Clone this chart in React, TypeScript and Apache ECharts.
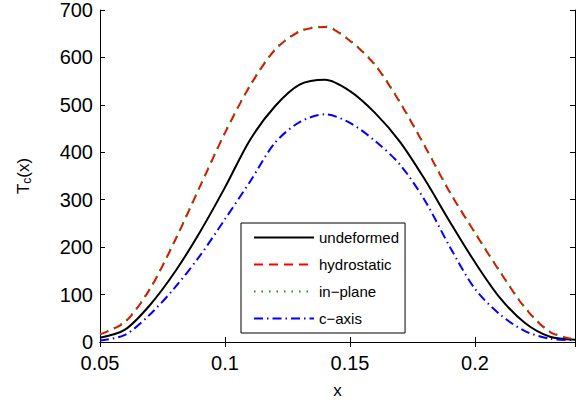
import React, { useEffect, useRef } from "react";
import * as echarts from "echarts";

const xs = [0.05, 0.06, 0.07, 0.08, 0.09, 0.1, 0.11, 0.12, 0.13, 0.14, 0.15, 0.16, 0.17, 0.18, 0.19, 0.2, 0.21, 0.22, 0.23, 0.24];
const undeformed = [9, 26, 78, 148, 232, 326, 426, 497, 543, 553, 529, 483, 422, 342, 253, 168, 93, 40, 11, 5];
const hydrostatic = [16, 42, 112, 214, 328, 441, 540, 616, 655, 664, 635, 584, 505, 412, 315, 230, 148, 72, 21, 5];
const inPlane = [17, 43, 113, 215, 329, 442, 541, 617, 656, 665, 636, 585, 506, 413, 316, 231, 149, 73, 22, 5];
const cAxis = [3, 15, 58, 115, 182, 259, 338, 420, 464, 480, 462, 424, 374, 298, 200, 112, 58, 23, 7, 4];
const xTickLabels = ["0.05", "0.1", "0.15", "0.2"];
const seriesNames = ["undeformed", "hydrostatic", "in\u2212plane", "c\u2212axis"];

const pairs = (ys: number[]) => xs.map((x, i) => [x, ys[i]]);

export default function App() {
  const ref = useRef<HTMLDivElement>(null);
  useEffect(() => {
    const chart = echarts.init(ref.current!, null, { renderer: "svg" });
    const font = "Liberation Sans, Arial, Helvetica, sans-serif";
    const mk = (name: string, data: number[], color: string, type: any, width: number) => ({
      name,
      type: "line",
      data: pairs(data),
      symbol: "none",
      showSymbol: false,
      smooth: 0.3,
      lineStyle: { color, type, width },
      itemStyle: { color },
      xAxisIndex: 0,
      yAxisIndex: 0,
    });
    chart.setOption({
      animation: false,
      backgroundColor: "#fff",
      textStyle: { fontFamily: font },
      grid: { left: 100, right: 6, top: 10, bottom: 61, containLabel: false },
      xAxis: [
        {
          type: "value",
          min: 0.05,
          max: 0.24,
          interval: 0.05,
          name: "x",
          nameLocation: "middle",
          nameGap: 40,
          nameTextStyle: { fontSize: 17, color: "#000", fontFamily: font },
          axisLine: { show: true, lineStyle: { color: "#000", width: 1 } },
          axisTick: { show: true, inside: true, length: 5, lineStyle: { color: "#000" } },
          axisLabel: {
            fontSize: 20,
            color: "#000",
            margin: 11,
            fontFamily: font,
            showMaxLabel: false,
            formatter: (v: number) => {
              const s = String(Math.round(v * 100) / 100);
              return xTickLabels.includes(s) ? s : "";
            },
          },
          splitLine: { show: false },
        },
        {
          type: "value",
          position: "top",
          min: 0.05,
          max: 0.24,
          interval: 0.05,
          axisLine: { show: true, lineStyle: { color: "#000", width: 1 } },
          axisTick: { show: true, inside: true, length: 5, lineStyle: { color: "#000" } },
          axisLabel: { show: false },
          splitLine: { show: false },
        },
      ],
      yAxis: [
        {
          type: "value",
          min: 0,
          max: 700,
          interval: 100,
          name: "{a|T}{b|c}{a|(x)}",
          nameLocation: "middle",
          nameRotate: 90,
          nameGap: 67,
          nameTextStyle: {
            color: "#000",
            rich: {
              a: { fontSize: 17, fontFamily: font, color: "#000" },
              b: { fontSize: 12, fontFamily: font, color: "#000", verticalAlign: "bottom", padding: [8, 0, 0, 0] },
            },
          },
          axisLine: { show: true, lineStyle: { color: "#000", width: 1 } },
          axisTick: { show: true, inside: true, length: 5, lineStyle: { color: "#000" } },
          axisLabel: { fontSize: 20, color: "#000", margin: 7, fontFamily: font },
          splitLine: { show: false },
        },
        {
          type: "value",
          position: "right",
          min: 0,
          max: 700,
          interval: 100,
          axisLine: { show: true, lineStyle: { color: "#000", width: 1 } },
          axisTick: { show: true, inside: true, length: 5, lineStyle: { color: "#000" } },
          axisLabel: { show: false },
          splitLine: { show: false },
        },
      ],
      legend: {
        orient: "vertical",
        left: 241,
        top: 223,
        padding: [7, 6, 7, 12],
        itemGap: 12,
        itemWidth: 60,
        itemHeight: 14,
        backgroundColor: "#fff",
        borderColor: "#000",
        borderWidth: 1,
        borderRadius: 0,
        itemStyle: { color: "transparent", borderColor: "transparent", borderWidth: 0, opacity: 0 },
        textStyle: { fontSize: 15, color: "#000", fontFamily: font },
        data: seriesNames,
      },
      series: [
        mk(seriesNames[0], undeformed, "#000000", "solid", 2),
        mk(seriesNames[1], hydrostatic, "#ff0000", [9, 6], 2),
        mk(seriesNames[2], inPlane, "#00a000", [1.5, 6], 2),
        mk(seriesNames[3], cAxis, "#0000ff", [9, 4, 1.5, 4], 2),
      ],
    });
    return () => chart.dispose();
  }, []);
  return <div ref={ref} style={{ position: "fixed", left: 0, top: 0, width: 581, height: 404 }} />;
}
